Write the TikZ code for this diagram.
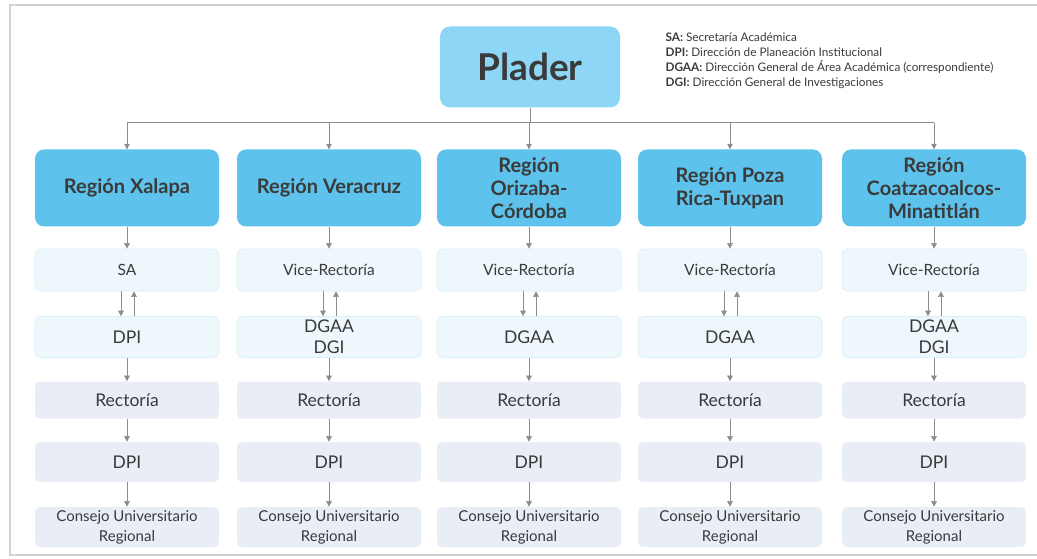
\documentclass[tikz,border=0pt]{standalone}
\usepackage{fontspec}
\setmainfont{Lato}
\usetikzlibrary{arrows.meta}
\definecolor{pladercolor}{HTML}{8ED6F5}
\definecolor{regcolor}{HTML}{5EC3EC}
\definecolor{lightbox}{HTML}{EEF7FC}
\definecolor{greybox}{HTML}{E8EDF6}
\definecolor{textgrey}{HTML}{3A3A3A}
\definecolor{linegrey}{HTML}{8C8C8C}
\tikzset{
  regbox/.style = {fill = regcolor, draw = none, rounded corners = 9pt, minimum width = 184pt, minimum height = 77pt, inner sep = 2pt, align = center, text = textgrey, font = \bfseries\fontsize{20}{23}\selectfont},
  subbox/.style = {fill = lightbox, draw = regcolor!25, line width = 0.6pt, rounded corners = 5pt, minimum width = 184pt, inner sep = 0pt, align = center, text = textgrey, font = \fontsize{17.5}{21}\selectfont},
  lowbox/.style = {subbox, fill = greybox, draw = none},
  link/.style = {draw = linegrey, line width = 0.5pt, -{Triangle[width = 5.5pt, length = 5.5pt]}}
}
\begin{document}
\begin{tikzpicture}[x = 1pt, y = -1pt]
\useasboundingbox (0,0) rectangle (1037,559);
\draw[color = gray!35, line width = 1.5pt] (1037,5) -- (10,5) -- (10,555) -- (1037,555);
\node[fill = pladercolor, rounded corners = 10pt, minimum width = 180pt, minimum height = 81pt, text = textgrey, font = \bfseries\fontsize{37}{40}\selectfont] (plader) at (530,67) {Plader};
\node[anchor = north west, align = left, text = textgrey, font = \fontsize{11.8}{15.2}\selectfont] (legend) at (662,29) {\textbf{SA:} Secretaría Académica\\\textbf{DPI:} Dirección de Planeación Institucional\\\textbf{DGAA:} Dirección General de Área Académica (correspondiente)\\\textbf{DGI:} Dirección General de Investigaciones};
\draw[draw = linegrey, line width = 0.5pt] (plader.south) -- ++(0,15) coordinate (bus);
\foreach \c/\x/\reg/\sa/\dir in {1/127/{Región Xalapa}/SA/DPI, 2/329/{Región Veracruz}/Vice-Rectoría/{DGAA\\DGI}, 3/529/{Región\\Orizaba-\\Córdoba}/Vice-Rectoría/DGAA, 4/730/{Región Poza\\Rica-Tuxpan}/Vice-Rectoría/DGAA, 5/934/{Región\\Coatzacoalcos-\\Minatitlán}/Vice-Rectoría/{DGAA\\DGI}}
{
  \node[regbox] (reg\c) at (\x,188) {\reg};
  \node[subbox, minimum height = 42pt, font = \fontsize{15.5}{20}\selectfont] (sa\c) at (\x,270) {\sa};
  \node[subbox, minimum height = 41pt] (dir\c) at (\x,337) {\dir};
  \node[lowbox, minimum height = 37pt] (rec\c) at (\x,400) {Rectoría};
  \node[lowbox, minimum height = 40pt] (dpi\c) at (\x,462) {DPI};
  \node[lowbox, minimum height = 40pt, font = \fontsize{15}{20}\selectfont] (con\c) at (\x,527) {Consejo Universitario\\Regional};
  \draw[link] (bus -| reg\c.north) -- (reg\c.north);
  \draw[link] (reg\c) -- (sa\c);
  \draw[link] ([xshift = -6pt]sa\c.south) -- ([xshift = -6pt]dir\c.north);
  \draw[link] ([xshift = 7pt]dir\c.north) -- ([xshift = 7pt]sa\c.south);
  \draw[link] (dir\c) -- (rec\c);
  \draw[link] (rec\c) -- (dpi\c);
  \draw[link] (dpi\c) -- (con\c);
}
\draw[draw = linegrey, line width = 0.5pt] (bus -| reg1.north) -- (bus -| reg5.north);
\end{tikzpicture}
\end{document}
